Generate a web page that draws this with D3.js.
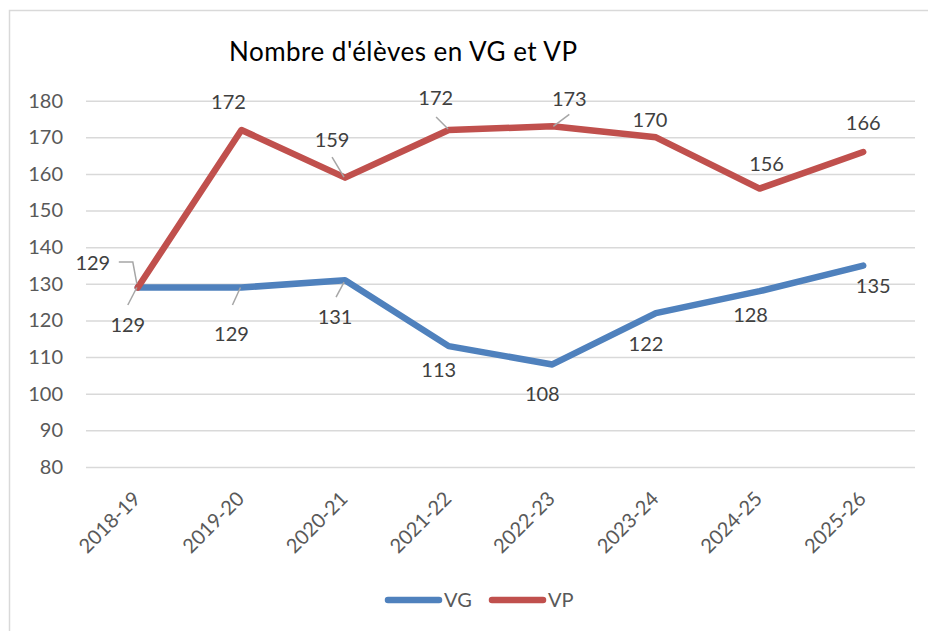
<!DOCTYPE html>
<html>
<head>
<meta charset="utf-8">
<script src="https://cdn.jsdelivr.net/npm/d3@7"></script>
<style>
    body { margin: 0; background: #fff; }
    text { font-family: Lato, "Open Sans", sans-serif; }
</style>
</head>
<body>
<div id="view"></div>
<script>
const years = ['2018-19', '2019-20', '2020-21', '2021-22', '2022-23', '2023-24', '2024-25', '2025-26'];
const vg = [129, 129, 131, 113, 108, 122, 128, 135];
const vp = [129, 172, 159, 172, 173, 170, 156, 166];
const yTicks = [80, 90, 100, 110, 120, 130, 140, 150, 160, 170, 180];

// label offsets from the point (layout only)
const vgLabelOffset = [[-10, 37], [-10, 46], [-10, 37], [-10, 24], [-10, 29], [-10, 31], [-9, 24], [10, 20]];
const vpLabelOffset = [[-45, -25], [-13, -28], [-13, -38], [-13, -32], [17, -28], [-6, -18], [7, -25], [0, -29]];
// leader lines, relative to the point
const vgLeaders = {0: [[-10, 17.5], [-1, 0]], 1: [[-9, 17.5], [-1, 0]], 2: [[-9, 17], [-1, 2]]};
const vpLeaders = {0: [[-19, -25.5], [-5, -25.5], [-1, -4]], 2: [[-13, -20.6], [-1, -0.6]], 3: [[-12.6, -13], [-0.6, -1]], 4: [[17, -12], [1, 0]]};

const W = 928, H = 631;
const margin = {top: 100.7, left: 86, right: 13, bottom: 164};
const width = W - margin.left - margin.right;
const height = H - margin.top - margin.bottom;

const svg = d3.select('#view')
    .append('svg')
        .attr('width', W)
        .attr('height', H);

// chart frame
svg.append('rect')
    .attr('x', 9.5).attr('y', 10.5)
    .attr('width', W + 10).attr('height', H + 10)
    .attr('fill', 'none')
    .attr('stroke', '#d9d9d9')
    .attr('stroke-width', 1.5);

svg.append('text')
    .attr('x', 229).attr('y', 61)
    .attr('font-size', 26)
    .attr('textLength', 348)
    .attr('lengthAdjust', 'spacing')
    .attr('fill', '#000')
    .text("Nombre d'élèves en VG et VP");

const g = svg.append('g')
    .attr('transform', `translate(${margin.left},${margin.top})`);

const x = d3.scaleBand().domain(years).range([0, width]);
const y = d3.scaleLinear().domain([80, 180]).range([height, 0]);
const cx = d => x(d) + x.bandwidth() / 2;

// grid
g.append('g')
    .call(d3.axisLeft(y).tickValues(yTicks).tickSize(-width).tickFormat(''))
    .call(a => a.select('.domain').remove())
    .call(a => a.selectAll('line').attr('stroke', '#d9d9d9').attr('stroke-width', 1.5));

// y labels
g.append('g')
    .call(d3.axisLeft(y).tickValues(yTicks).tickSize(0).tickPadding(23))
    .call(a => a.select('.domain').remove())
    .call(a => a.selectAll('text')
        .attr('font-size', 20)
        .attr('font-family', 'Lato, sans-serif')
        .attr('fill', '#595959'));

// x labels
g.append('g')
    .selectAll('text')
    .data(years)
    .join('text')
        .attr('transform', d => `translate(${cx(d) + 4},${500 - margin.top}) rotate(-45)`)
        .attr('text-anchor', 'end')
        .attr('font-size', 20)
        .attr('fill', '#595959')
        .text(d => d);

const series = [
    {name: 'VG', values: vg, color: '#4f81bd', offsets: vgLabelOffset, leaders: vgLeaders},
    {name: 'VP', values: vp, color: '#c0504d', offsets: vpLabelOffset, leaders: vpLeaders}
];

const line = d3.line()
    .x((d, i) => cx(years[i]))
    .y(d => y(d));

series.forEach(s => {
    g.append('path')
        .datum(s.values)
        .attr('fill', 'none')
        .attr('stroke', s.color)
        .attr('stroke-width', 6.5)
        .attr('stroke-linejoin', 'round')
        .attr('stroke-linecap', 'round')
        .attr('d', line);
});

series.forEach(s => {
    Object.keys(s.leaders).forEach(k => {
        const i = +k;
        const px = cx(years[i]);
        const py = y(s.values[i]);
        g.append('path')
            .attr('fill', 'none')
            .attr('stroke', '#a6a6a6')
            .attr('stroke-width', 1.5)
            .attr('d', d3.line()(s.leaders[k].map(p => [px + p[0], py + p[1]])));
    });
    g.append('g')
        .selectAll('text')
        .data(s.values)
        .join('text')
            .attr('x', (d, i) => cx(years[i]) + s.offsets[i][0])
            .attr('y', (d, i) => y(d) + s.offsets[i][1])
            .attr('dy', '0.36em')
            .attr('text-anchor', 'middle')
            .attr('font-size', 20)
            .attr('fill', '#404040')
            .text(d => d);
});

// legend
const legend = svg.append('g');
series.forEach((s, i) => {
    const lx = 385 + i * 104;
    legend.append('line')
        .attr('x1', lx + 3).attr('x2', lx + 54)
        .attr('y1', 600).attr('y2', 600)
        .attr('stroke', s.color)
        .attr('stroke-width', 6.5)
        .attr('stroke-linecap', 'round');
    legend.append('text')
        .attr('x', lx + 59).attr('y', 600)
        .attr('dy', '0.36em')
        .attr('font-size', 20)
        .attr('fill', '#595959')
        .text(s.name);
});
</script>
</body>
</html>
